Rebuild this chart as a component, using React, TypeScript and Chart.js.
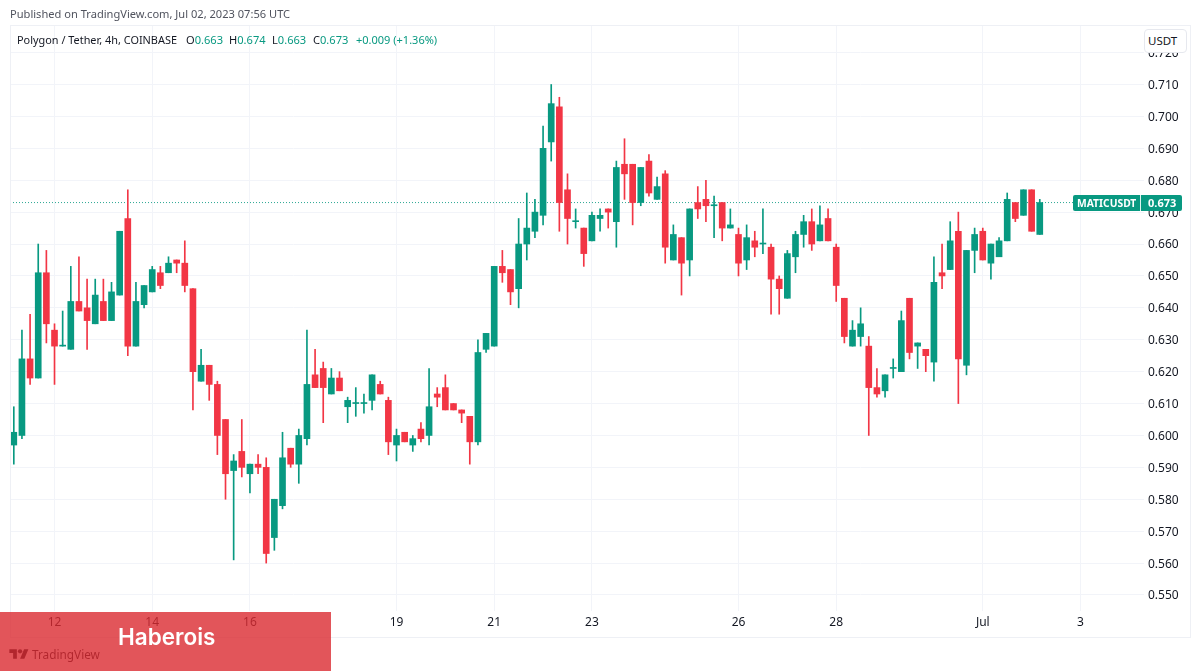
import React, { useEffect, useRef } from "react";
import { Chart, registerables } from "chart.js";

Chart.register(...registerables);

const opens = [
  0.597,0.6,0.624,0.618,0.651,0.633,0.628,0.627,0.642,0.64,
  0.635,0.642,0.636,0.644,0.668,0.628,0.641,0.645,0.651,0.651,
  0.655,0.654,0.646,0.617,0.622,0.616,0.605,0.589,0.595,0.588,
  0.591,0.59,0.568,0.578,0.596,0.591,0.599,0.619,0.621,0.613,
  0.618,0.609,0.61,0.61,0.611,0.616,0.611,0.597,0.601,0.597,
  0.602,0.6,0.613,0.615,0.61,0.608,0.606,0.598,0.627,0.628,
  0.653,0.652,0.646,0.66,0.664,0.669,0.692,0.703,0.677,0.667,
  0.665,0.661,0.668,0.671,0.667,0.685,0.685,0.673,0.686,0.674,
  0.682,0.655,0.662,0.655,0.673,0.674,0.672,0.673,0.665,0.663,
  0.655,0.661,0.66,0.659,0.649,0.643,0.656,0.663,0.667,0.661,
  0.668,0.659,0.643,0.628,0.631,0.628,0.615,0.614,0.621,0.62,
  0.643,0.628,0.627,0.623,0.651,0.652,0.664,0.622,0.658,0.664,
  0.654,0.656,0.661,0.673,0.669,0.677,0.663,
];
const closes = [
  0.601,0.624,0.618,0.651,0.635,0.628,0.628,0.642,0.639,0.636,
  0.644,0.636,0.645,0.664,0.628,0.642,0.647,0.652,0.647,0.654,
  0.654,0.647,0.62,0.622,0.616,0.6,0.588,0.592,0.59,0.591,
  0.59,0.563,0.58,0.593,0.591,0.6,0.616,0.615,0.615,0.618,
  0.614,0.611,0.61,0.61,0.619,0.613,0.598,0.6,0.598,0.599,
  0.599,0.609,0.612,0.608,0.608,0.607,0.598,0.626,0.632,0.653,
  0.651,0.645,0.66,0.665,0.67,0.69,0.704,0.673,0.668,0.667,
  0.657,0.669,0.669,0.67,0.684,0.682,0.673,0.684,0.676,0.678,
  0.659,0.663,0.654,0.671,0.671,0.672,0.672,0.665,0.666,0.654,
  0.662,0.659,0.66,0.649,0.646,0.657,0.663,0.667,0.66,0.666,
  0.661,0.647,0.631,0.633,0.635,0.615,0.613,0.619,0.621,0.636,
  0.626,0.629,0.625,0.648,0.65,0.661,0.624,0.658,0.663,0.655,
  0.66,0.661,0.674,0.668,0.677,0.664,0.673,
];
const highs = [
  0.609,0.633,0.638,0.66,0.658,0.635,0.639,0.653,0.656,0.649,
  0.649,0.649,0.648,0.664,0.677,0.648,0.647,0.653,0.653,0.656,
  0.655,0.661,0.646,0.627,0.622,0.617,0.605,0.594,0.605,0.591,
  0.594,0.593,0.58,0.601,0.596,0.602,0.633,0.627,0.623,0.621,
  0.62,0.612,0.615,0.613,0.619,0.617,0.612,0.602,0.601,0.6,
  0.604,0.621,0.615,0.619,0.61,0.608,0.606,0.63,0.632,0.653,
  0.658,0.652,0.668,0.676,0.674,0.697,0.71,0.706,0.682,0.671,
  0.665,0.67,0.671,0.671,0.686,0.693,0.685,0.684,0.688,0.681,
  0.683,0.666,0.662,0.671,0.678,0.68,0.675,0.673,0.671,0.665,
  0.666,0.664,0.671,0.66,0.65,0.658,0.664,0.669,0.671,0.672,
  0.671,0.66,0.643,0.636,0.64,0.631,0.621,0.619,0.624,0.639,
  0.643,0.629,0.627,0.656,0.66,0.667,0.67,0.658,0.665,0.665,
  0.66,0.662,0.676,0.673,0.677,0.677,0.674,
];
const lows = [
  0.591,0.599,0.616,0.618,0.629,0.616,0.628,0.627,0.639,0.627,
  0.635,0.636,0.636,0.644,0.625,0.628,0.64,0.645,0.646,0.651,
  0.651,0.645,0.608,0.617,0.611,0.594,0.58,0.561,0.587,0.582,
  0.588,0.56,0.564,0.577,0.59,0.585,0.597,0.615,0.604,0.613,
  0.614,0.604,0.606,0.607,0.608,0.613,0.594,0.592,0.598,0.595,
  0.598,0.597,0.609,0.608,0.608,0.604,0.591,0.597,0.626,0.628,
  0.648,0.641,0.64,0.655,0.662,0.666,0.686,0.664,0.66,0.665,
  0.653,0.661,0.664,0.665,0.659,0.674,0.666,0.672,0.675,0.674,
  0.654,0.655,0.644,0.65,0.668,0.667,0.662,0.661,0.665,0.65,
  0.652,0.656,0.657,0.638,0.638,0.643,0.651,0.659,0.658,0.661,
  0.661,0.642,0.629,0.628,0.628,0.6,0.612,0.612,0.618,0.62,
  0.624,0.621,0.62,0.617,0.646,0.652,0.61,0.619,0.651,0.655,
  0.649,0.656,0.661,0.667,0.669,0.664,0.663,
];

const xTickIndex = [5, 17, 29, 47, 59, 71, 89, 101, 119, 131];
const xTickLabels = ["12", "14", "16", "19", "21", "23", "26", "28", "Jul", "3"];
const yTicks = [
  0.55, 0.56, 0.57, 0.58, 0.59, 0.6, 0.61, 0.62, 0.63, 0.64,
  0.65, 0.66, 0.67, 0.68, 0.69, 0.7, 0.71, 0.72,
];
const lastPrice = 0.673;

const GREEN = "#089981";
const RED = "#F23645";
const GRID = "#f2f4f9";
const FONT = "'Noto Sans', sans-serif";

const isUp = (i: number) => closes[i] >= opens[i];
const candleColor = (ctx: any) => (isUp(ctx.dataIndex) ? GREEN : RED);

const abs = (style: React.CSSProperties): React.CSSProperties => ({
  position: "absolute",
  whiteSpace: "nowrap",
  fontFamily: FONT,
  ...style,
});

export default function App() {
  const ref = useRef<HTMLCanvasElement>(null);

  useEffect(() => {
    const xMin = -0.467;
    const xMax = 138.8;
    const chart = new Chart(ref.current as HTMLCanvasElement, {
      type: "bar",
      data: {
        datasets: [
          {
            type: "bar",
            label: "body",
            order: 1,
            grouped: false,
            barThickness: 6,
            minBarLength: 1,
            backgroundColor: candleColor,
            data: opens.map((o, i) => ({ x: i, y: [o, closes[i]] })),
          },
          {
            type: "bar",
            label: "wick",
            order: 2,
            grouped: false,
            barThickness: 1,
            backgroundColor: candleColor,
            data: lows.map((l, i) => ({ x: i, y: [l, highs[i]] })),
          },
          {
            type: "line",
            label: "last",
            order: 3,
            borderColor: "rgba(8,153,129,0.85)",
            borderWidth: 1,
            borderDash: [1, 2],
            pointRadius: 0,
            clip: false,
            data: [
              { x: xMin, y: lastPrice },
              { x: xMax, y: lastPrice },
            ],
          },
        ] as any,
      },
      options: {
        responsive: false,
        animation: false,
        layout: { padding: { left: 10, top: 25, right: 0, bottom: 0 } },
        plugins: { legend: { display: false }, tooltip: { enabled: false } },
        scales: {
          x: {
            type: "linear",
            min: xMin,
            max: xMax,
            offset: false,
            grid: { color: GRID, drawTicks: false, offset: false },
            border: { display: false },
            ticks: {
              autoSkip: false,
              maxRotation: 0,
              padding: 4,
              color: "#131722",
              font: { family: FONT, size: 12 },
              callback: (v: any) => {
                const k = xTickIndex.indexOf(Number(v));
                return k >= 0 ? xTickLabels[k] : "";
              },
            },
            afterBuildTicks: (s: any) => {
              s.ticks = xTickIndex.map((value) => ({ value }));
            },
            afterFit: (s: any) => {
              s.height = 60;
            },
          },
          y: {
            type: "linear",
            position: "right",
            min: 0.54498,
            max: 0.72865,
            grid: { color: GRID, drawTicks: false },
            border: { display: false },
            ticks: {
              padding: 4,
              labelOffset: 1,
              color: "#131722",
              font: { family: FONT, size: 12 },
              callback: (v: any) => Number(v).toFixed(3),
            },
            afterBuildTicks: (s: any) => {
              s.ticks = yTicks.map((value) => ({ value }));
            },
            afterFit: (s: any) => {
              s.width = 56;
            },
          },
        },
      } as any,
    });
    return () => chart.destroy();
  }, []);

  const val = { color: GREEN };
  return (
    <div style={{ position: "absolute", left: 0, top: 0, width: 1200, height: 671, background: "#fff", overflow: "hidden" }}>
      <canvas ref={ref} width={1200} height={671} style={{ position: "absolute", left: 0, top: 0, width: 1200, height: 671 }} />
      <div style={{ position: "absolute", left: 10, top: 25, width: 1179, height: 611, border: "1px solid #eef0f5", boxSizing: "content-box", pointerEvents: "none" }} />
      <div style={abs({ left: 10, top: 6, fontSize: 11.1, lineHeight: "16px", color: "#50535e" })}>
        Published on TradingView.com, Jul 02, 2023 07:56 UTC
      </div>
      <div style={abs({ left: 17, top: 32, fontSize: 10.9, lineHeight: "16px", color: "#131722" })}>
        Polygon / Tether, 4h, COINBASE
      </div>
      <div style={abs({ left: 186, top: 32, fontSize: 11.1, lineHeight: "16px", color: "#131722" })}>
        O<span style={val}>0.663</span>
      </div>
      <div style={abs({ left: 229, top: 32, fontSize: 11.1, lineHeight: "16px", color: "#131722" })}>
        H<span style={val}>0.674</span>
      </div>
      <div style={abs({ left: 272, top: 32, fontSize: 11.1, lineHeight: "16px", color: "#131722" })}>
        L<span style={val}>0.663</span>
      </div>
      <div style={abs({ left: 313, top: 32, fontSize: 11.1, lineHeight: "16px", color: "#131722" })}>
        C<span style={val}>0.673</span>
      </div>
      <div style={abs({ left: 356, top: 32, fontSize: 11, lineHeight: "16px", color: GREEN })}>
        +0.009 (+1.36%)
      </div>

      <div style={abs({ left: 1144, top: 29, width: 43, height: 24, boxSizing: "border-box", background: "#fff", border: "1px solid #e6e8ee", borderRadius: 4, fontSize: 11.5, lineHeight: "22px", paddingLeft: 3, color: "#131722" })}>
        USDT
      </div>

      <div style={abs({ left: 1073, top: 195, width: 109, height: 16, background: GREEN, borderRadius: 2, color: "#fff", fontSize: 10.3, fontWeight: 700, lineHeight: "16px" })}>
        <span style={{ position: "absolute", left: 4, top: 0 }}>MATICUSDT</span>
        <span style={{ position: "absolute", left: 67, top: 0, width: 1, height: 16, background: "#dff3ef" }} />
        <span style={{ position: "absolute", left: 75, top: 0, fontSize: 11 }}>0.673</span>
      </div>

      <svg width="20" height="15" viewBox="0 0 36 28" style={{ position: "absolute", left: 9, top: 647 }}>
        <path d="M14 22H7V11H0V4h14v18zM28 22h-8l7.5-18h8L28 22z" fill="#131722" />
        <circle cx="20" cy="8" r="4" fill="#131722" />
      </svg>
      <div style={abs({ left: 32, top: 645, fontSize: 11.8, lineHeight: "18px", color: "#131722" })}>TradingView</div>

      <div style={{ position: "absolute", left: 0, top: 612, width: 331, height: 59, background: "rgba(219,42,49,0.8)" }} />
      <div style={abs({ left: 118, top: 622, fontFamily: "Inter, sans-serif", fontSize: 22.5, fontWeight: 600, lineHeight: "30px", color: "#fff" })}>
        Haberois
      </div>
    </div>
  );
}
